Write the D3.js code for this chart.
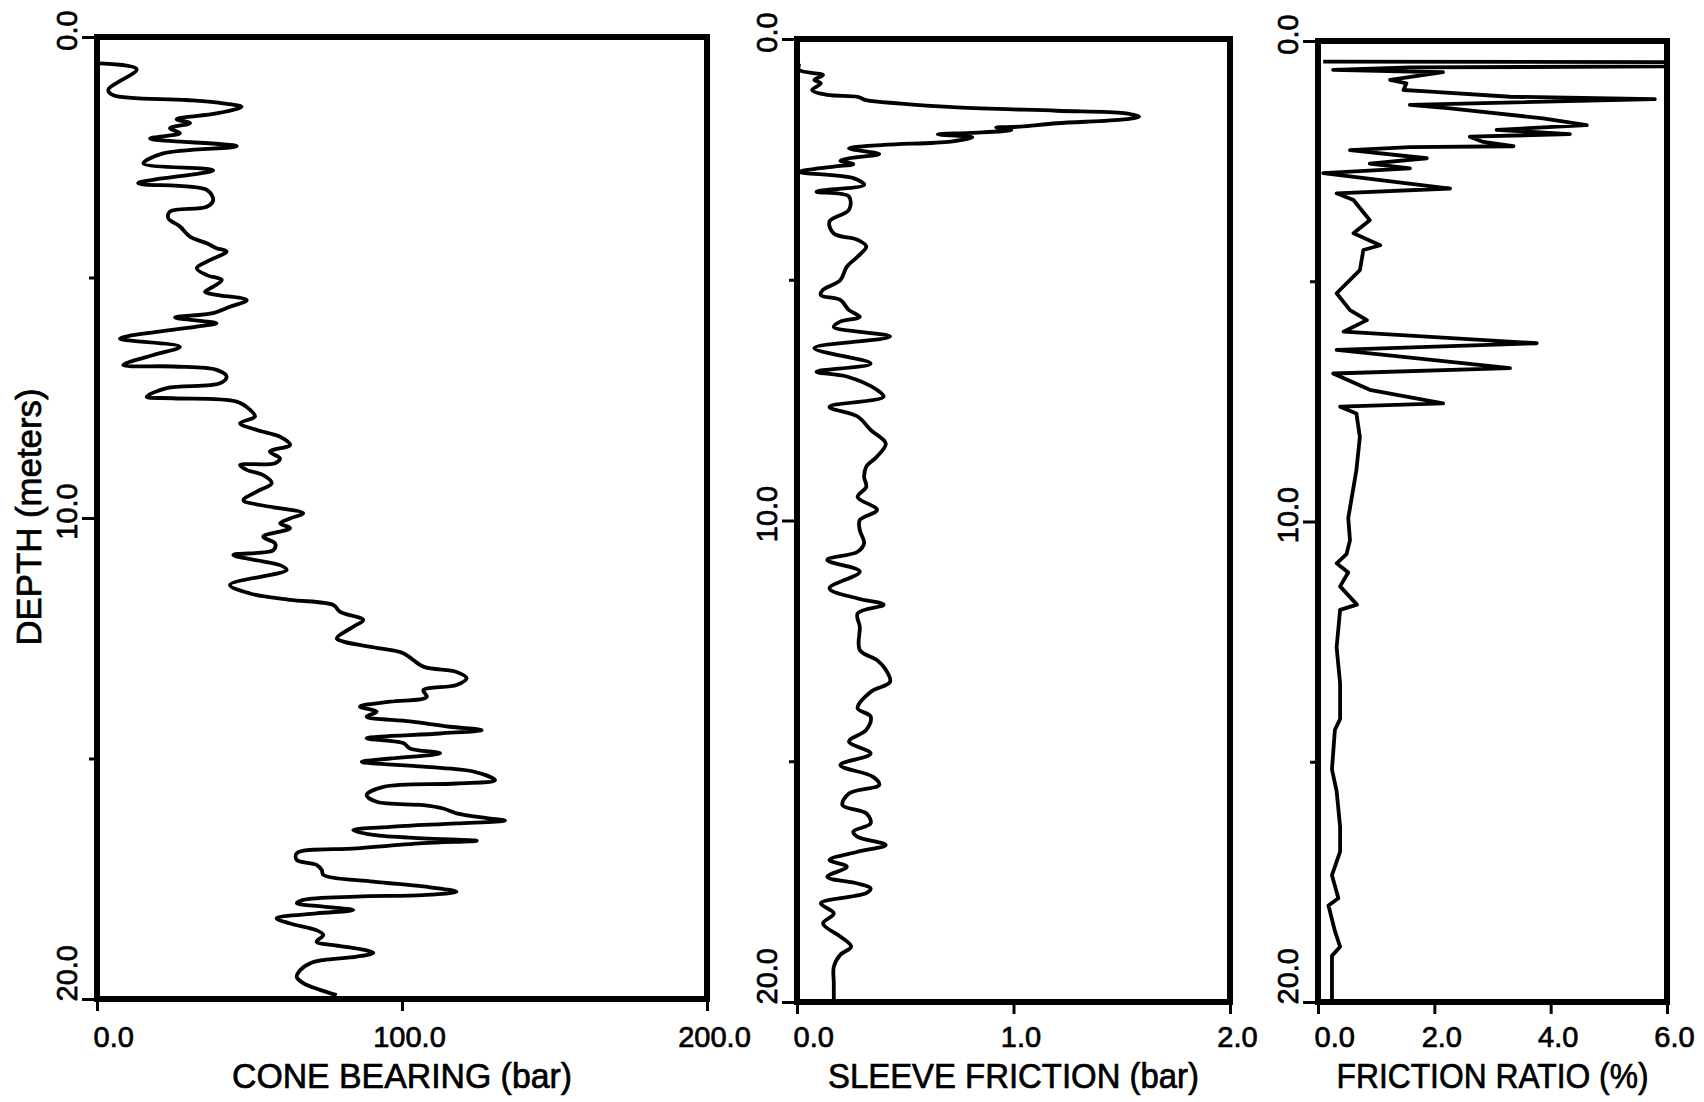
<!DOCTYPE html>
<html>
<head>
<meta charset="utf-8">
<script src="https://cdn.jsdelivr.net/npm/d3@7"></script>
<style>
  body { margin: 0; background: #fff; }
  svg { display: block; }
  text { font-family: "Liberation Sans", Arial, sans-serif; fill: #000; stroke: #000; stroke-width: 0.7px; }
</style>
</head>
<body>
<svg id="chart" width="1704" height="1102"></svg>
<script>
// cone bearing log (depth m, bar)
var coneDepth = [0.55,0.67,1.10,1.21,1.31,1.38,1.45,1.59,1.71,1.79,1.90,2.00,2.11,2.27,2.42,2.63,2.77,3.04,3.18,3.39,
  3.53,3.63,3.77,3.94,4.15,4.29,4.39,4.46,4.64,4.81,4.95,5.05,5.19,5.30,5.36,5.47,5.61,5.74,5.83,5.95,
  6.02,6.13,6.27,6.44,6.61,6.82,6.85,6.92,7.06,7.20,7.30,7.48,7.51,7.58,7.75,7.89,8.03,8.17,8.31,8.48,
  8.62,8.76,8.86,8.90,9.00,9.11,9.28,9.45,9.63,9.73,9.90,10.01,10.11,10.21,10.39,10.53,10.67,10.77,10.98,11.08,
  11.39,11.57,11.70,11.81,11.95,12.12,12.26,12.50,12.57,12.71,12.81,13.09,13.20,13.33,13.47,13.58,13.72,13.82,13.92,14.03,
  14.13,14.23,14.34,14.41,14.48,14.58,14.68,14.79,14.89,15.00,15.07,15.17,15.27,15.45,15.52,15.59,15.76,15.90,15.97,16.04,
  16.14,16.24,16.29,16.35,16.42,16.49,16.59,16.66,16.71,16.76,16.87,16.97,17.11,17.21,17.32,17.42,17.56,17.66,17.77,17.84,
  17.87,17.94,18.01,18.08,18.15,18.22,18.32,18.43,18.57,18.67,18.81,18.88,18.95,19.04,19.12,19.19,19.26,19.40,19.54,19.67,
  19.81,19.92];
var coneBearing = [1.0,13.0,3.7,5.4,29.4,41.4,47.4,39.2,26.1,30.5,23.9,27.2,17.4,45.8,21.7,15.2,38.1,13.5,36.0,38.1,
  36.0,23.9,23.4,27.2,30.5,36.0,39.2,42.5,37.0,32.7,36.0,40.9,38.1,35.4,39.2,49.1,43.6,38.1,25.6,39.2,
  32.7,19.6,7.5,27.2,18.5,8.6,25.0,39.2,42.5,40.3,22.8,16.3,25.0,45.8,50.2,51.8,46.9,52.4,60.0,63.3,
  56.7,60.0,58.4,46.9,49.1,54.5,57.3,52.4,48.0,53.4,67.6,63.3,60.0,63.3,54.5,58.4,57.8,44.7,60.0,62.2,
  43.6,50.2,63.3,77.5,79.7,87.3,84.0,78.6,80.8,92.8,100.4,107.0,117.9,121.2,117.9,107.0,108.1,96.1,86.2,91.7,
  88.4,102.6,115.7,126.1,112.5,88.4,100.4,102.6,112.5,96.1,86.8,107.0,123.4,130.5,117.9,93.9,88.4,91.7,107.0,113.5,
  117.9,127.8,133.8,117.9,96.1,84.0,90.6,107.0,124.5,107.0,85.1,65.5,65.5,72.0,73.7,74.2,90.6,107.0,117.9,107.0,
  85.1,67.6,65.5,74.2,84.0,72.0,58.9,63.3,72.0,74.2,72.0,77.5,85.1,90.6,85.1,74.2,69.8,66.6,65.5,67.6,
  73.1,78.6];

// sleeve friction log (depth m, bar)
var sleeveDepth = [0.51,0.64,0.75,0.85,0.92,1.06,1.16,1.20,1.27,1.34,1.42,1.49,1.54,1.61,1.67,1.75,1.82,1.84,1.89,1.95,
  1.98,2.04,2.13,2.20,2.27,2.39,2.48,2.53,2.60,2.65,2.76,2.89,3.03,3.17,3.27,3.55,3.79,4.04,4.17,4.31,
  4.52,4.73,5.01,5.21,5.32,5.42,5.63,5.77,5.87,5.98,6.18,6.42,6.74,6.91,7.01,7.29,7.43,7.64,7.84,8.12,
  8.40,8.67,8.88,9.09,9.30,9.51,9.78,9.99,10.20,10.47,10.65,10.82,11.06,11.41,11.62,11.75,11.93,12.21,12.69,12.90,
  13.10,13.35,13.56,13.90,14.07,14.35,14.59,14.84,15.08,15.32,15.49,15.67,15.91,16.08,16.29,16.46,16.57,16.74,16.88,17.05,
  17.19,17.40,17.54,17.64,17.74,17.95,18.16,18.37,18.64,18.85,19.02,19.27,19.61,19.96];
var sleeveFriction = [0.01,0.01,0.12,0.08,0.11,0.07,0.14,0.28,0.32,0.48,0.74,1.20,1.51,1.58,1.51,1.20,1.03,0.92,0.99,0.80,
  0.65,0.81,0.71,0.40,0.24,0.38,0.24,0.20,0.26,0.17,0.01,0.26,0.31,0.09,0.24,0.24,0.15,0.17,0.28,0.32,
  0.28,0.23,0.20,0.12,0.11,0.20,0.24,0.29,0.20,0.17,0.43,0.08,0.34,0.09,0.23,0.37,0.40,0.15,0.28,0.34,
  0.41,0.37,0.32,0.31,0.32,0.28,0.37,0.29,0.29,0.31,0.28,0.14,0.29,0.15,0.28,0.40,0.28,0.29,0.29,0.37,
  0.41,0.43,0.34,0.28,0.34,0.32,0.24,0.34,0.20,0.35,0.38,0.24,0.21,0.32,0.34,0.26,0.28,0.41,0.28,0.15,
  0.23,0.14,0.28,0.34,0.32,0.11,0.17,0.12,0.20,0.25,0.20,0.17,0.17,0.17];

// friction ratio log (depth m, %)
var ratioDepth = [0.43,0.44,0.53,0.55,0.60,0.65,0.81,0.88,1.02,1.05,1.16,1.21,1.33,1.40,1.61,1.75,1.85,1.94,1.99,2.10,
  2.19,2.21,2.27,2.44,2.55,2.65,2.75,3.07,3.17,3.31,3.73,4.00,4.25,4.35,4.77,5.25,5.60,5.81,6.05,6.29,
  6.43,6.81,6.92,7.26,7.54,7.61,7.75,8.24,8.93,9.93,10.39,10.68,10.87,11.06,11.35,11.73,11.84,12.62,13.37,14.11,
  14.34,15.16,15.61,16.35,16.87,17.36,17.84,17.99,18.52,18.85,19.04,20.0];
var frictionRatio = [0.09,6.0,6.0,1.58,0.26,2.15,1.24,1.52,1.47,1.87,3.30,5.79,1.58,2.27,3.87,4.62,3.07,4.33,2.61,2.84,
  3.36,1.58,0.55,1.87,0.89,1.58,0.09,2.27,0.32,0.61,0.89,0.61,1.07,0.78,0.72,0.32,0.55,0.84,0.44,3.76,
  0.32,3.30,0.26,0.89,2.15,0.38,0.66,0.72,0.66,0.52,0.55,0.49,0.32,0.52,0.38,0.67,0.38,0.32,0.38,0.38,
  0.29,0.24,0.32,0.38,0.38,0.24,0.35,0.18,0.29,0.38,0.24,0.24];

var depthTicks = [0, 10, 20];
var depthMinor = [5, 15];
var coneTicks = [0, 100, 200];
var sleeveTicks = [0, 1, 2];
var ratioTicks = [0, 2, 4, 6];
var titles = ['CONE BEARING (bar)', 'SLEEVE FRICTION (bar)', 'FRICTION RATIO (%)'];

var panels = [
  { depth: coneDepth, value: coneBearing, max: 200, ticks: coneTicks, title: titles[0], titleLen: 340,
    left: 97, right: 707, top: 37, bottom: 999, curve: d3.curveCatmullRom.alpha(0.5) },
  { depth: sleeveDepth, value: sleeveFriction, max: 2, ticks: sleeveTicks, title: titles[1], titleLen: 371,
    left: 797, right: 1230, top: 39, bottom: 1002, curve: d3.curveCatmullRom.alpha(0.5) },
  { depth: ratioDepth, value: frictionRatio, max: 6, ticks: ratioTicks, title: titles[2], titleLen: 312,
    left: 1318, right: 1667, top: 41, bottom: 1002, curve: d3.curveLinear }
];

var svg = d3.select('#chart');
var fmt = d3.format('.1f');

panels.forEach(function (p) {
  var x = d3.scaleLinear().domain([0, p.max]).range([p.left, p.right]);
  var y = d3.scaleLinear().domain([0, 20]).range([p.top, p.bottom]);
  var g = svg.append('g');

  var line = d3.line()
    .x(function (d) { return x(d[1]); })
    .y(function (d) { return y(d[0]); })
    .curve(p.curve);

  g.append('path')
    .datum(d3.zip(p.depth, p.value))
    .attr('d', line)
    .attr('fill', 'none')
    .attr('stroke', '#000')
    .attr('stroke-width', 3.8)
    .attr('stroke-linejoin', 'round');

  g.append('rect')
    .attr('x', p.left).attr('y', p.top)
    .attr('width', p.right - p.left).attr('height', p.bottom - p.top)
    .attr('fill', 'none')
    .attr('stroke', '#000')
    .attr('stroke-width', 6);

  // bottom axis
  var xa = g.append('g')
    .attr('transform', 'translate(0,' + p.bottom + ')')
    .call(d3.axisBottom(x).tickValues(p.ticks).tickSize(12).tickFormat(fmt));
  xa.select('.domain').remove();
  xa.selectAll('line').attr('stroke', '#000').attr('stroke-width', 3);
  xa.selectAll('text')
    .attr('font-size', 29)
    .attr('y', 1047 - p.bottom)
    .attr('dy', 0)
    .attr('x', function (d, i) { return i === 0 ? -4 : 7; })
    .attr('text-anchor', function (d, i) { return i === 0 ? 'start' : 'middle'; });

  // left axis
  var ya = g.append('g')
    .attr('transform', 'translate(' + p.left + ',0)')
    .call(d3.axisLeft(y).tickValues(depthTicks).tickSize(15).tickFormat(fmt));
  ya.select('.domain').remove();
  ya.selectAll('line').attr('stroke', '#000').attr('stroke-width', 3);
  ya.selectAll('text')
    .attr('font-size', 29)
    .attr('x', 0).attr('y', 0).attr('dy', 0)
    .attr('transform', function (d, i) {
      return 'translate(-20,' + (i === depthTicks.length - 1 ? 2 : -7) + ') rotate(-90)';
    })
    .attr('text-anchor', function (d, i) { return i === depthTicks.length - 1 ? 'start' : 'middle'; });

  var ym = g.append('g')
    .attr('transform', 'translate(' + p.left + ',0)')
    .call(d3.axisLeft(y).tickValues(depthMinor).tickSize(8).tickFormat(''));
  ym.select('.domain').remove();
  ym.selectAll('line').attr('stroke', '#000').attr('stroke-width', 3);

  g.append('text')
    .attr('x', (p.left + p.right) / 2)
    .attr('y', 1088)
    .attr('text-anchor', 'middle')
    .attr('font-size', 35)
    .attr('textLength', p.titleLen)
    .attr('lengthAdjust', 'spacingAndGlyphs')
    .text(p.title);
});

svg.append('text')
  .attr('transform', 'translate(41,517) rotate(-90)')
  .attr('text-anchor', 'middle')
  .attr('font-size', 35)
  .attr('textLength', 257)
  .attr('lengthAdjust', 'spacingAndGlyphs')
  .text('DEPTH (meters)');
</script>
</body>
</html>
